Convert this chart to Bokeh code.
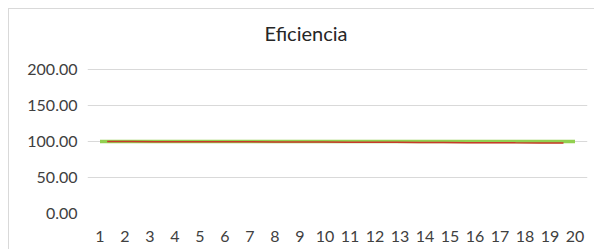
from bokeh.plotting import figure
from bokeh.models import FixedTicker, Range1d, NumeralTickFormatter, Label
from bokeh.embed import file_html
from bokeh.resources import INLINE

title_text = "Eficiencia"
categories = list(range(1, 21))
green_values = [100.0] * 20
red_values = [100.0, 99.9, 99.8, 99.8, 99.7, 99.6, 99.5, 99.4, 99.3, 99.2,
              99.1, 99.0, 98.9, 98.7, 98.6, 98.4, 98.3, 98.1, 98.0, 97.8]
y_ticks = [0, 50, 100, 150, 200]

# frame spans the full height above the axis; the title sits inside the frame, above the 200 gridline
frame_h = 241 - 37
y_top = 200 * frame_h / 144

p = figure(width=586, height=241, output_backend="svg", toolbar_location=None,
           x_range=Range1d(0.5, 20.5), y_range=Range1d(0, y_top),
           min_border_left=78, min_border_right=8, min_border_top=0, min_border_bottom=37)
p.extra_x_ranges = {"red": Range1d(0.18, 21.0)}
p.styles = {"margin-left": "8px", "margin-top": "8px",
            "border-top": "1px solid #D9D9D9", "border-left": "1px solid #D9D9D9"}

p.add_layout(Label(x=177, y=181, x_units="screen", y_units="screen", text=title_text,
                   text_font="Lato", text_font_size="20px", text_color="#262626",
                   text_align="left", text_baseline="middle"))

p.outline_line_color = None
p.background_fill_color = "white"
p.border_fill_color = "white"

p.xgrid.visible = False
p.ygrid.ticker = FixedTicker(ticks=y_ticks)
p.ygrid.grid_line_color = "#D9D9D9"
p.ygrid.grid_line_width = 1

for ax in (p.xaxis[0], p.yaxis[0]):
    ax.axis_line_color = None
    ax.major_tick_line_color = None
    ax.minor_tick_line_color = None
    ax.major_tick_out = 0
    ax.major_tick_in = 0
    ax.minor_tick_out = 0
    ax.major_label_text_font = "Lato"
    ax.major_label_text_font_size = "16px"
    ax.major_label_text_color = "#404040"

p.xaxis.ticker = FixedTicker(ticks=categories)
p.xaxis.major_label_standoff = 17
p.yaxis.ticker = FixedTicker(ticks=y_ticks)
p.yaxis.formatter = NumeralTickFormatter(format="0.00")
p.yaxis.major_label_standoff = 10

p.line(categories, green_values, line_color="#92D050", line_width=3.5)
p.line(categories, red_values, line_color="#C8382A", line_width=1.5, x_range_name="red")

open("out.html", "w").write(file_html(p, INLINE))
